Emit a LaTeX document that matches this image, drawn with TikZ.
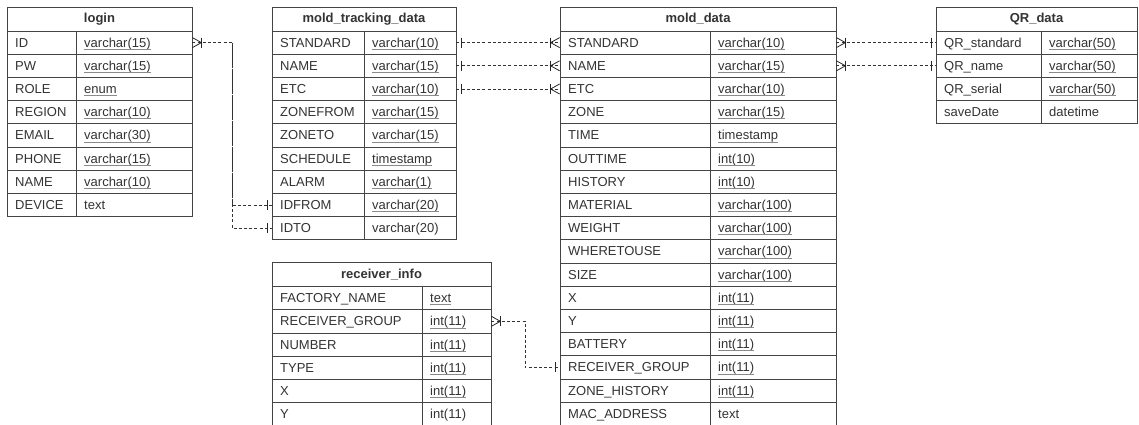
\documentclass[tikz,border=0pt]{standalone}
\usepackage{fontspec}
\setmainfont{Liberation Sans}
\definecolor{txtc}{HTML}{333333}
\definecolor{bdr}{HTML}{444444}
\definecolor{ulc}{HTML}{8A8A8A}
\tikzset{
 cellbox/.style={draw=bdr, line width=0.8pt, inner sep=0pt, minimum height=23.2pt},
 hdrbox/.style={draw=bdr, line width=0.8pt, inner sep=0pt, minimum height=24pt, font=\bfseries\fontsize{13}{15}\selectfont, text=txtc},
 celltxt/.style={inner sep=0pt, anchor=base west, font=\fontsize{13}{15}\selectfont, text=txtc},
 ulline/.style={draw=ulc, line width=0.6pt},
 rel/.style={draw=black!80, line width=0.7pt, dash pattern=on 3pt off 2.2pt},
 relend/.style={draw=black!85, line width=0.8pt},
}
\newcommand\ertable[7]{%
  \node[hdrbox, minimum width={#5-#3}] (#1-h) at ({(#3+#5)/2},{#6+12}) {#2};
  \foreach \fa/\fb/\fu [count=\i] in {#7} {%
    \pgfmathsetmacro\yc{#6+24+(\i-0.5)*23.2}%
    \node[cellbox, minimum width={#4-#3}] (#1-\i-a) at ({(#3+#4)/2},\yc) {};
    \node[cellbox, minimum width={#5-#4}] (#1-\i-b) at ({(#4+#5)/2},\yc) {};
    \node[celltxt] (#1-\i-at) at ({#3+8},{\yc+4.5}) {\fa};
    \node[celltxt] (#1-\i-bt) at ({#4+8},{\yc+4.5}) {\fb};
    \ifnum\fu=1 \draw[ulline] ([yshift=-2pt]#1-\i-bt.base west) -- ([yshift=-2pt]#1-\i-bt.base east);\fi
  }%
}
\newcommand\manyR[1]{\draw[relend] ([shift={(0,-5)}]#1) -- ([shift={(9,0)}]#1) -- ([shift={(0,5)}]#1);
  \draw[relend] ([shift={(9,-5)}]#1) -- ([shift={(9,5)}]#1);}
\newcommand\manyL[1]{\draw[relend] ([shift={(0,-5)}]#1) -- ([shift={(-9,0)}]#1) -- ([shift={(0,5)}]#1);
  \draw[relend] ([shift={(-9,-5)}]#1) -- ([shift={(-9,5)}]#1);}
\newcommand\oneR[1]{\draw[relend] ([shift={(5,-5)}]#1) -- ([shift={(5,5)}]#1);}
\newcommand\oneL[1]{\draw[relend] ([shift={(-4.5,-5)}]#1) -- ([shift={(-4.5,5)}]#1);}
\begin{document}
\begin{tikzpicture}[x=1pt,y=-1pt]
\clip (0,0) rectangle (1139,425);
\fill[white] (0,0) rectangle (1139,425);

\ertable{lg}{login}{7}{76}{192}{7}{ID/varchar(15)/1, PW/varchar(15)/1, ROLE/enum/1, REGION/varchar(10)/1, EMAIL/varchar(30)/1, PHONE/varchar(15)/1, NAME/varchar(10)/1, DEVICE/text/0}

\ertable{trk}{mold\_tracking\_data}{272}{364}{456}{7}{STANDARD/varchar(10)/1, NAME/varchar(15)/1, ETC/varchar(10)/1, ZONEFROM/varchar(15)/1, ZONETO/varchar(15)/1, SCHEDULE/timestamp/1, ALARM/varchar(1)/1, IDFROM/varchar(20)/1, IDTO/varchar(20)/0}

\ertable{md}{mold\_data}{560}{710}{836}{7}{STANDARD/varchar(10)/1, NAME/varchar(15)/1, ETC/varchar(10)/1, ZONE/varchar(15)/1, TIME/timestamp/1, OUTTIME/int(10)/1, HISTORY/int(10)/1, MATERIAL/varchar(100)/1, WEIGHT/varchar(100)/1, WHERETOUSE/varchar(100)/1, SIZE/varchar(100)/1, X/int(11)/1, Y/int(11)/1, BATTERY/int(11)/1, RECEIVER\_GROUP/int(11)/1, ZONE\_HISTORY/int(11)/1, MAC\_ADDRESS/text/0}

\ertable{qr}{QR\_data}{936}{1041}{1137}{7}{QR\_standard/varchar(50)/1, QR\_name/varchar(50)/1, QR\_serial/varchar(50)/1, saveDate/datetime/0}

\ertable{rcv}{receiver\_info}{272}{422}{491}{262.5}{FACTORY\_NAME/text/1, RECEIVER\_GROUP/int(11)/1, NUMBER/int(11)/1, TYPE/int(11)/1, X/int(11)/1, Y/int(11)/0}

\coordinate (j1) at (232,0);
\coordinate (j2) at (525,0);

% login -> mold_tracking_data
\draw[rel] (lg-1-b.east) -- (lg-1-b.east -| j1) |- (trk-8-a.west);
\draw[rel] (lg-1-b.east -| j1) |- (trk-9-a.west);
\manyR{lg-1-b.east}
\oneL{trk-8-a.west}
\oneL{trk-9-a.west}

% mold_tracking_data -> mold_data
\foreach \k in {1,2,3}{
  \draw[rel] (trk-\k-b.east) -- (md-\k-a.west);
  \oneR{trk-\k-b.east}
  \manyL{md-\k-a.west}
}

% mold_data -> QR_data
\foreach \k in {1,2}{
  \draw[rel] (md-\k-b.east) -- (qr-\k-a.west);
  \manyR{md-\k-b.east}
  \oneL{qr-\k-a.west}
}

% receiver_info -> mold_data
\draw[rel] (rcv-2-b.east) -- (rcv-2-b.east -| j2) |- (md-15-a.west);
\manyR{rcv-2-b.east}
\oneL{md-15-a.west}
\end{tikzpicture}
\end{document}
